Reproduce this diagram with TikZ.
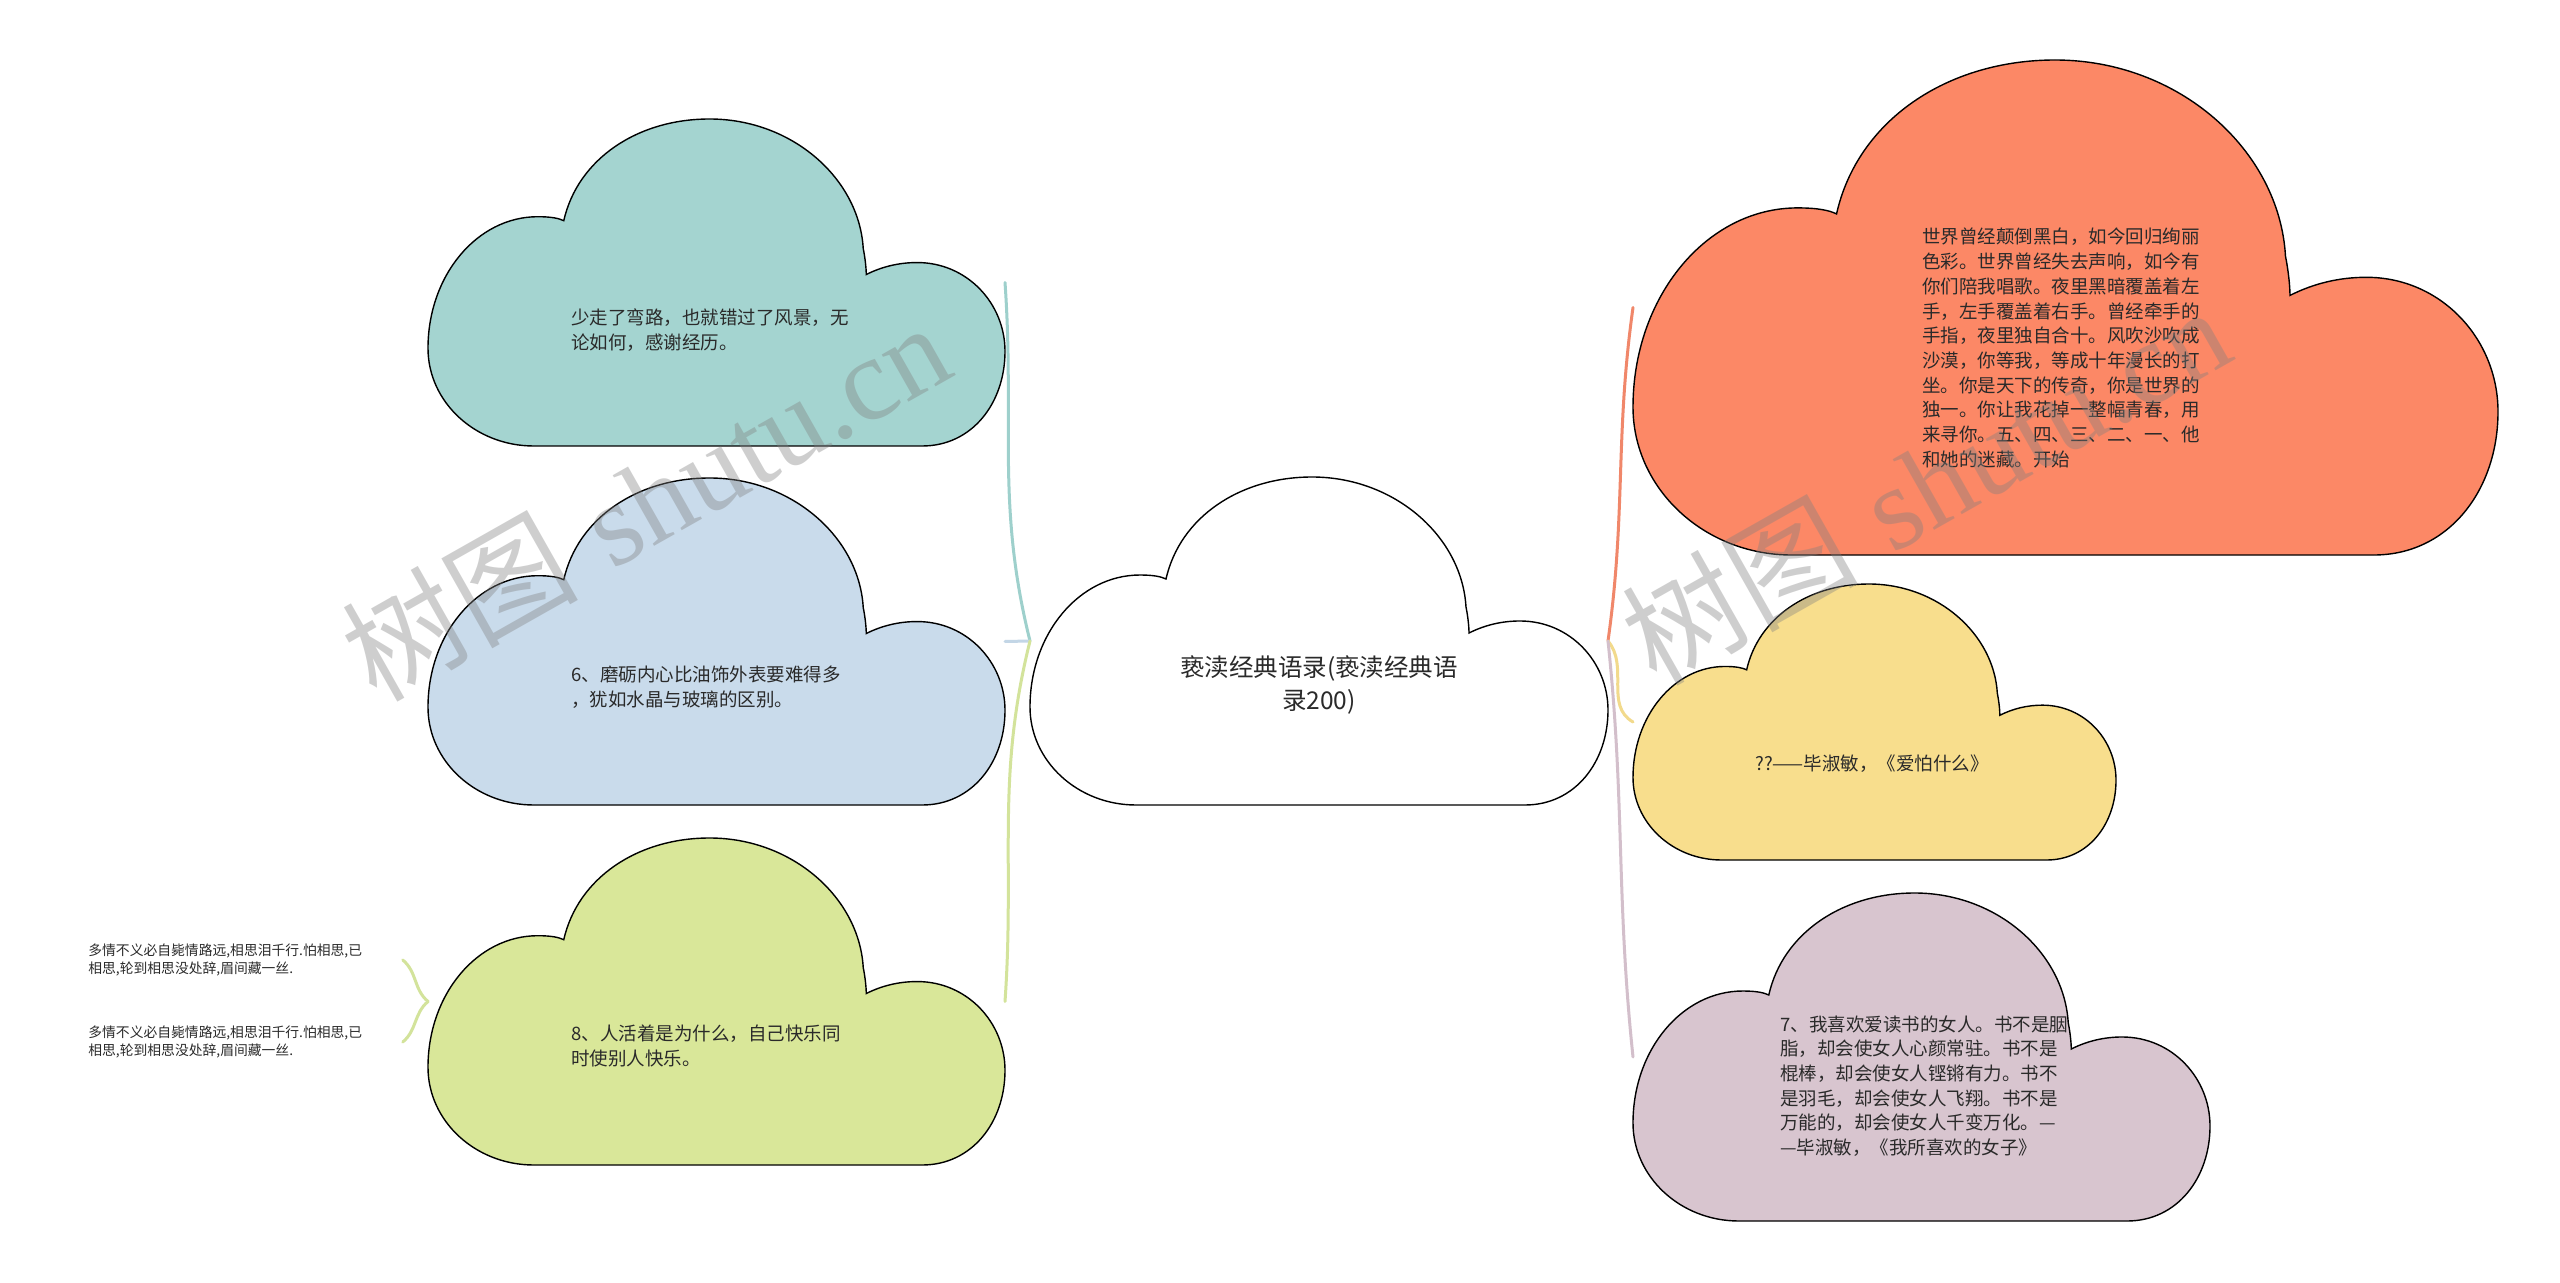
\documentclass[tikz,border=0pt]{standalone}
\usepackage{fontspec}
\newfontfamily\cjk{Noto Sans CJK SC}
\newfontfamily\wmserif{Liberation Serif}
\usetikzlibrary{calc}
\definecolor{tealF}{HTML}{A4D4D0}
\definecolor{blueF}{HTML}{C9DBEB}
\definecolor{greenF}{HTML}{D9E799}
\definecolor{orangeF}{HTML}{FC8866}
\definecolor{yellowF}{HTML}{F8DE8D}
\definecolor{mauveF}{HTML}{D8C5CF}
\definecolor{tealC}{HTML}{9ED0CC}
\definecolor{blueC}{HTML}{C3D6E6}
\definecolor{greenC}{HTML}{D3E39B}
\definecolor{orangeC}{HTML}{F0876A}
\definecolor{yellowC}{HTML}{F2DA8C}
\definecolor{mauveC}{HTML}{D3BFCB}
\definecolor{txt}{HTML}{2A2A2A}
\newcommand\cloudpath{(0.1834,1) .. controls (0.0822,1) and (0,0.8659) .. (0,0.7012) .. controls (0,0.4787) and (0.0848,0.2988) .. (0.1903,0.2988) .. controls (0.2128,0.2988) and (0.2266,0.3034) .. (0.2353,0.311) .. controls (0.2595,0.122) and (0.3633,0) .. (0.4879,0) .. controls (0.6315,0) and (0.7474,0.1829) .. (0.7543,0.3963) .. controls (0.7578,0.4268) and (0.7595,0.4573) .. (0.7595,0.4756) .. controls (0.7872,0.4512) and (0.8166,0.439) .. (0.8478,0.439) .. controls (0.9343,0.439) and (1,0.564) .. (1,0.7104) .. controls (1,0.8689) and (0.9429,1) .. (0.8564,1) -- cycle}
\newcommand\mkcloud[6]{%
  \begin{scope}[shift={(#2,#3)},x={(#4*0.5pt,0pt)},y={(0pt,-#5*0.5pt)}]
    \filldraw[cloudline,fill=#6] \cloudpath;
  \end{scope}
  \node[bbox,minimum width=#4*0.5pt,minimum height=#5*0.5pt,anchor=north west] (#1) at (#2,#3) {};
}
\tikzset{
  cloudline/.style={draw=black,line width=0.7pt},
  bbox/.style={rectangle,draw=none,inner sep=0pt,outer sep=0pt},
  ctext/.style={font={\cjk\fontsize{9.25}{12.35}\selectfont},text=txt,align=left,inner sep=0pt},
  maintext/.style={font={\cjk\fontsize{12.25}{16.5}\selectfont},text=txt,align=center,inner sep=0pt},
  smalltext/.style={font={\cjk\fontsize{6.9}{9.2}\selectfont},text=txt,align=left,inner sep=0pt,text width=157pt,anchor=west},
  conn/.style={line width=1.5pt,line cap=round},
  wm/.style={font={\fontsize{59}{59}\selectfont},text=black!50,text opacity=0.38,inner sep=0pt,rotate=29.5,anchor=base west},
}
\begin{document}
\begin{tikzpicture}[x=0.5pt,y=-0.5pt]
\fill[white] (0,0) rectangle (2560,1283);
\useasboundingbox (0,0) rectangle (2560,1283);
% clouds
\mkcloud{nCentral}{1030}{477}{578}{328}{white}
\mkcloud{nTeal}{428}{119}{577}{327}{tealF}
\mkcloud{nBlue}{428}{478}{577}{327}{blueF}
\mkcloud{nGreen}{428}{838}{577}{327}{greenF}
\mkcloud{nOrange}{1633}{60}{865}{495}{orangeF}
\mkcloud{nYellow}{1633}{584}{483}{276}{yellowF}
\mkcloud{nMauve}{1633}{893}{577}{328}{mauveF}
% texts
\node[maintext] (tCentral) at (1319,685) {亵渎经典语录(亵渎经典语\\录200)};
\node[ctext,anchor=west] (tTeal) at (571,330) {少走了弯路，也就错过了风景，无\\论如何，感谢经历。};
\node[ctext,anchor=west] (tBlue) at (571,687) {6、磨砺内心比油饰外表要难得多\\，犹如水晶与玻璃的区别。};
\node[ctext,anchor=west] (tGreen) at (571,1046) {8、人活着是为什么，自己快乐同\\时使别人快乐。};
\node[ctext,anchor=west] (tOrange) at (1922,348) {世界曾经颠倒黑白，如今回归绚丽\\色彩。世界曾经失去声响，如今有\\你们陪我唱歌。夜里黑暗覆盖着左\\手，左手覆盖着右手。曾经牵手的\\手指，夜里独自合十。风吹沙吹成\\沙漠，你等我，等成十年漫长的打\\坐。你是天下的传奇，你是世界的\\独一。你让我花掉一整幅青春，用\\来寻你。五、四、三、二、一、他\\和她的迷藏。开始};
\node[ctext,anchor=center] (tYellow) at (1872,764) {??——毕淑敏，《爱怕什么》};
\node[ctext,anchor=west] (tMauve) at (1780,1086) {7、我喜欢爱读书的女人。书不是胭\\脂，却会使女人心颜常驻。书不是\\棍棒，却会使女人铿锵有力。书不\\是羽毛，却会使女人飞翔。书不是\\万能的，却会使女人千变万化。—\\—毕淑敏，《我所喜欢的女子》};
\node[smalltext] (tSmallA) at (88,960) {多情不义必自毙情路远,相思泪千行.怕相思,已\\相思,轮到相思没处辞,眉间藏一丝.};
\node[smalltext] (tSmallB) at (88,1042) {多情不义必自毙情路远,相思泪千行.怕相思,已\\相思,轮到相思没处辞,眉间藏一丝.};
% connectors
\draw[conn,tealC] (nCentral.west) to[out=104,in=-86] (nTeal.east);
\draw[conn,blueC] (nCentral.west) -- (nBlue.east);
\draw[conn,greenC] (nCentral.west) to[out=-104,in=86] (nGreen.east);
\draw[conn,orangeC] (nCentral.east) to[out=82,in=-98] (nOrange.west);
\draw[conn,yellowC] (nCentral.east) to[out=-50,in=150] (nYellow.west);
\draw[conn,mauveC] (nCentral.east) to[out=-84,in=96] (nMauve.west);
\draw[conn,greenC] (nGreen.west) to[out=140,in=-40] (tSmallA.east);
\draw[conn,greenC] (nGreen.west) to[out=-140,in=40] (tSmallB.east);
% watermark
\node[wm] (wmA) at (376,704) {{\cjk 树图} {\wmserif shutu.cn}};
\node[wm] (wmB) at (1656,688) {{\cjk 树图} {\wmserif shutu.cn}};
\end{tikzpicture}
\end{document}
